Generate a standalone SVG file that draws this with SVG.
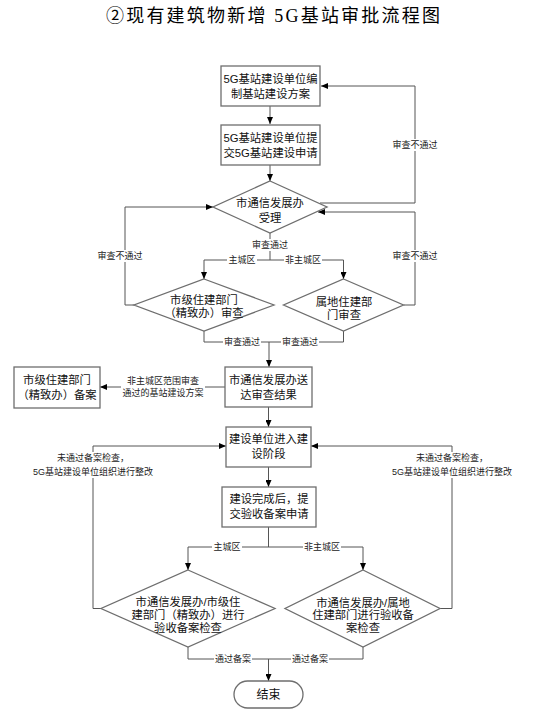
<svg xmlns="http://www.w3.org/2000/svg" width="539" height="717" viewBox="0 0 539 717">
<defs>
<marker id="arr" markerWidth="7" markerHeight="6" refX="7" refY="3" orient="auto" markerUnits="userSpaceOnUse">
<path d="M0,0 L7,3 L0,6 z" fill="#000"/>
</marker>
<style>
.node{fill:#fff;stroke:#6e6e6e;stroke-width:1.3}
.t{font-family:"Liberation Sans","Noto Sans CJK SC",sans-serif;font-size:11.3px;fill:#111;text-anchor:middle}
.c{fill:none;stroke:#555;stroke-width:1}
.a{fill:none;stroke:#555;stroke-width:1;marker-end:url(#arr)}
.lb{fill:#fff;stroke:none}
.l{font-family:"Liberation Sans","Noto Sans CJK SC",sans-serif;font-size:9px;fill:#222;text-anchor:middle}
.title{font-family:"Liberation Serif","Noto Sans CJK SC",serif;font-size:18px;fill:#000;letter-spacing:2.2px}
</style>
</defs>
<rect width="539" height="717" fill="#fff"/>
<text class="title" x="106" y="22">②现有建筑物新增 5G基站审批流程图</text>

<g id="connectors">
<line class="a" x1="270" y1="106" x2="270" y2="124"/>
<line class="a" x1="270" y1="165" x2="270" y2="181"/>
<polyline class="a" points="320,203 415,203 415,86 321,86"/>
<polyline class="a" points="403.5,305 415,305 415,212 318,212"/>
<polyline class="a" points="134,305 125,305 125,207 213,207"/>
<line class="c" x1="270" y1="233" x2="270" y2="260"/>
<line class="c" x1="204" y1="260" x2="343.5" y2="260"/>
<line class="a" x1="204" y1="260" x2="204" y2="279"/>
<line class="a" x1="343.5" y1="260" x2="343.5" y2="279"/>
<polyline class="c" points="204,331 204,342 343.5,342 343.5,331"/>
<line class="a" x1="269" y1="342" x2="269" y2="367"/>
<line class="a" x1="225" y1="387" x2="100" y2="387"/>
<line class="a" x1="268.5" y1="407" x2="268.5" y2="427"/>
<line class="a" x1="268.5" y1="467" x2="268.5" y2="487"/>
<line class="c" x1="268.5" y1="527" x2="268.5" y2="547"/>
<line class="c" x1="188" y1="547" x2="363" y2="547"/>
<line class="a" x1="188" y1="547" x2="188" y2="570"/>
<line class="a" x1="363" y1="547" x2="363" y2="570"/>
<polyline class="a" points="101,608.5 93,608.5 93,446 226,446"/>
<polyline class="a" points="440,608.5 452,608.5 452,446 311,446"/>
<polyline class="c" points="188,647 188,659 363,659 363,647"/>
<line class="a" x1="268.5" y1="659" x2="268.5" y2="681"/>

<rect class="lb" x="391" y="139" width="48" height="12"/>
<text class="l" x="415" y="148.3">审查不通过</text>
<rect class="lb" x="391" y="250" width="48" height="12"/>
<text class="l" x="415" y="259.3">审查不通过</text>
<rect class="lb" x="96" y="250" width="48" height="12"/>
<text class="l" x="120" y="259.3">审查不通过</text>
<rect class="lb" x="251" y="239" width="38" height="12"/>
<text class="l" x="270" y="248.3">审查通过</text>
<rect class="lb" x="227" y="254" width="30" height="12"/>
<text class="l" x="242" y="263.3">主城区</text>
<rect class="lb" x="284" y="254" width="38" height="12"/>
<text class="l" x="303" y="263.3">非主城区</text>
<rect class="lb" x="223" y="336" width="38" height="12"/>
<text class="l" x="242" y="345.3">审查通过</text>
<rect class="lb" x="281" y="336" width="38" height="12"/>
<text class="l" x="300" y="345.3">审查通过</text>
<rect class="lb" x="121" y="375" width="84" height="24"/>
<text class="l" x="163" y="384.3">非主城区范围审查</text>
<text class="l" x="163" y="396.3">通过的基站建设方案</text>
<rect class="lb" x="37" y="452" width="112" height="26"/>
<text class="l" x="93" y="461.3">未通过备案检查，</text>
<text class="l" x="93" y="475.3">5G基站建设单位组织进行整改</text>
<rect class="lb" x="396" y="452" width="112" height="26"/>
<text class="l" x="452" y="461.3">未通过备案检查，</text>
<text class="l" x="452" y="475.3">5G基站建设单位组织进行整改</text>
<rect class="lb" x="212" y="541" width="30" height="12"/>
<text class="l" x="227" y="550.3">主城区</text>
<rect class="lb" x="303" y="541" width="38" height="12"/>
<text class="l" x="322" y="550.3">非主城区</text>
<rect class="lb" x="214" y="653" width="38" height="12"/>
<text class="l" x="233" y="662.3">通过备案</text>
<rect class="lb" x="291" y="653" width="38" height="12"/>
<text class="l" x="310" y="662.3">通过备案</text>
</g>

<g id="n1">
<rect class="node" x="221" y="66" width="99" height="40"/>
<text class="t" x="270.5" y="82.5">5G基站建设单位编</text>
<text class="t" x="270.5" y="97.5">制基站建设方案</text>
</g>
<g id="n2">
<rect class="node" x="221" y="125" width="99" height="40"/>
<text class="t" x="270.5" y="141.5">5G基站建设单位提</text>
<text class="t" x="270.5" y="156.5">交5G基站建设申请</text>
</g>
<g id="d1">
<polygon class="node" points="270,181 327,207 270,233 213,207"/>
<text class="t" x="270" y="207">市通信发展办</text>
<text class="t" x="270" y="221.5">受理</text>
</g>
<g id="d2">
<polygon class="node" points="204,279 274,305 204,331 134,305"/>
<text class="t" x="204" y="304">市级住建部门</text>
<text class="t" x="204" y="317">（精致办）审查</text>
</g>
<g id="d3">
<polygon class="node" points="343.5,279 403.5,305 343.5,331 283.5,305"/>
<text class="t" x="344" y="305.5">属地住建部</text>
<text class="t" x="344" y="319">门审查</text>
</g>
<g id="n3">
<rect class="node" x="225" y="367" width="87" height="40"/>
<text class="t" x="268.5" y="384">市通信发展办送</text>
<text class="t" x="268.5" y="398.5">达审查结果</text>
</g>
<g id="n4">
<rect class="node" x="14" y="367" width="86" height="41"/>
<text class="t" x="57" y="384">市级住建部门</text>
<text class="t" x="57" y="398.5">（精致办）备案</text>
</g>
<g id="n5">
<rect class="node" x="226" y="427" width="85" height="40"/>
<text class="t" x="268.5" y="442.5">建设单位进入建</text>
<text class="t" x="268.5" y="457.5">设阶段</text>
</g>
<g id="n6">
<rect class="node" x="222" y="487" width="94" height="40"/>
<text class="t" x="269" y="503">建设完成后，提</text>
<text class="t" x="269" y="518.3">交验收备案申请</text>
</g>
<g id="d4">
<polygon class="node" points="188,570 275,608.5 188,647 101,608.5"/>
<text class="t" x="188" y="605.5">市通信发展办/市级住</text>
<text class="t" x="188" y="618.5">建部门（精致办）进行</text>
<text class="t" x="188" y="632">验收备案检查</text>
</g>
<g id="d5">
<polygon class="node" points="363,570 440,608.5 363,647 285,608.5"/>
<text class="t" x="363" y="606.5">市通信发展办/属地</text>
<text class="t" x="363" y="618.5">住建部门进行验收备</text>
<text class="t" x="363" y="632">案检查</text>
</g>
<g id="end">
<rect class="node" x="234" y="681" width="69" height="27" rx="13.5" ry="13.5"/>
<text class="t" x="268.5" y="699" style="font-size:12px">结束</text>
</g>
</svg>
